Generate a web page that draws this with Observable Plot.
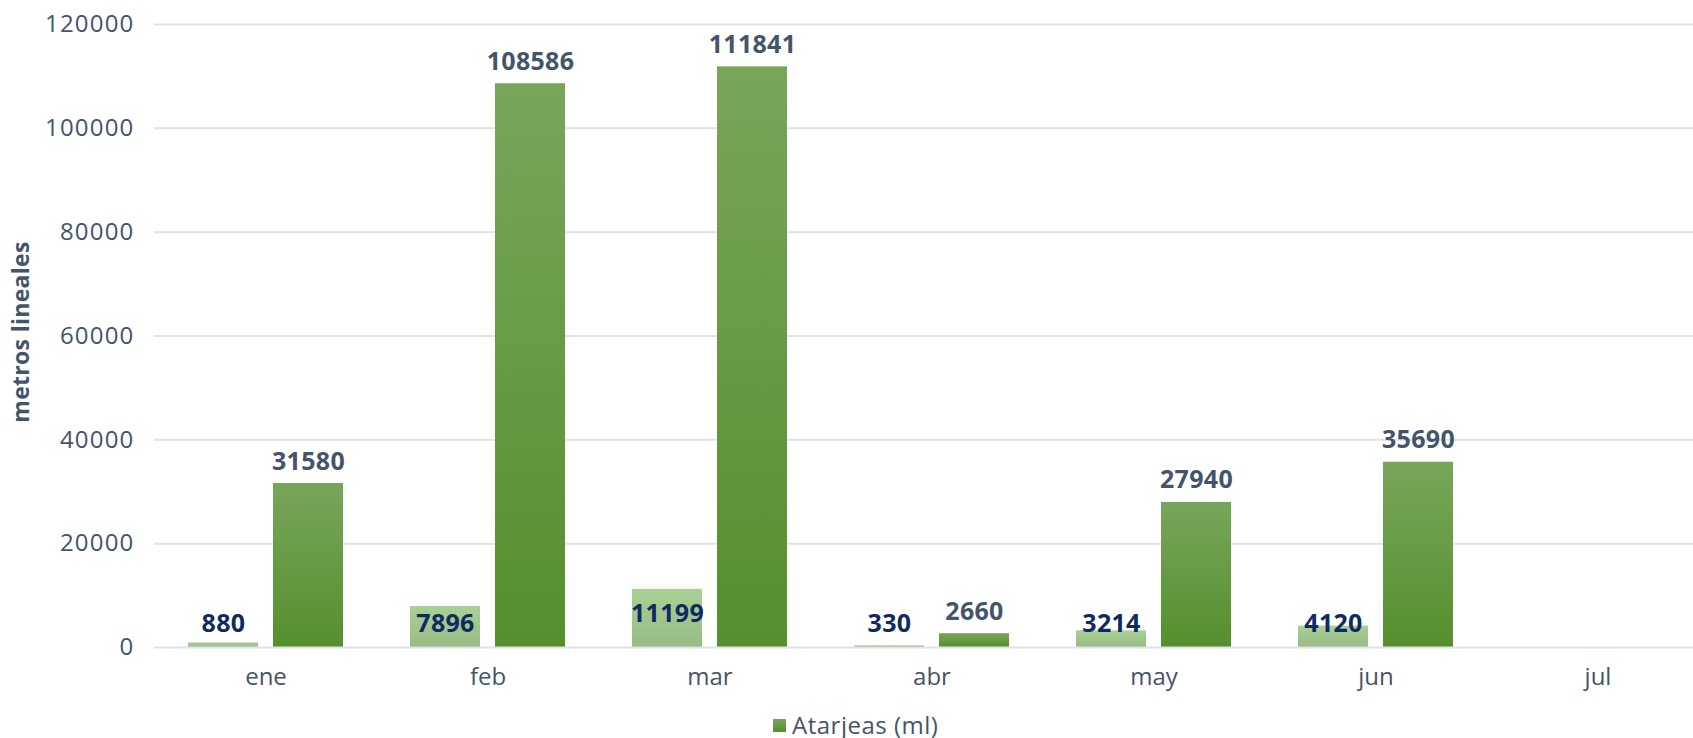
<!DOCTYPE html>
<html>
<head>
<meta charset="utf-8">
<script src="https://cdn.jsdelivr.net/npm/d3@7"></script>
<script src="https://cdn.jsdelivr.net/npm/@observablehq/plot@0.6"></script>
<style>
  html, body { margin: 0; padding: 0; background: #fff; overflow: hidden; width: 1693px; height: 738px; }
  #chart { position: relative; width: 1693px; height: 738px; }
  #legend { position: absolute; left: 773px; top: 712px; height: 26px; display: flex; align-items: center;
    font-family: 'Open Sans', sans-serif; font-size: 24px; line-height: 26px; color: #44546a; letter-spacing: 0.5px; }
  #legend .sw { width: 13px; height: 13px; background: linear-gradient(#76a65a, #558f2d); margin-right: 6px; }
  g[aria-label="y-axis tick label"] text { letter-spacing: 1.2px; }
  g[aria-label="text"] text { letter-spacing: 0.3px; }
</style>
</head>
<body>
<div id="chart"><div id="legend"><span class="sw"></span><span>Atarjeas (ml)</span></div></div>
<script>
const months = ["ene", "feb", "mar", "abr", "may", "jun", "jul"];
const otros = [880, 7896, 11199, 330, 3214, 4120, null];
const atarjeas = [31580, 108586, 111841, 2660, 27940, 35690, null];
const yTicks = [0, 20000, 40000, 60000, 80000, 100000, 120000];
const yTitle = "metros lineales";

const light = months.map((m, i) => ({month: m, value: otros[i]})).filter(d => d.value != null);
const dark = months.map((m, i) => ({month: m, value: atarjeas[i]})).filter(d => d.value != null);

const svg = Plot.plot({
  width: 1693,
  height: 700,
  marginLeft: 154,
  marginRight: -15,
  marginTop: 24,
  marginBottom: 53,
  style: {fontFamily: "'Open Sans', sans-serif", fontSize: "24px", color: "#44546a", background: "white"},
  x: {domain: months, paddingInner: 0.302, paddingOuter: 0.151, label: null},
  y: {domain: [0, 120000], label: null},
  marks: [
    Plot.gridY(yTicks.filter(t => t > 0), {stroke: "#dfe2e8", strokeOpacity: 1, strokeWidth: 2}),
    Plot.barY(light, {x: "month", y: "value", fill: "url(#gLight)", insetRight: 85}),
    Plot.barY(dark, {x: "month", y: "value", fill: "url(#gDark)", insetLeft: 85}),
    Plot.ruleY([0], {stroke: "#dfe2e8", strokeWidth: 2}),
    Plot.text(light, {x: "month", y: d => Math.max(d.value - 4700, 4600), text: d => String(d.value),
      dx: -42.5, fill: "#0f2a61", fontWeight: 700, fontSize: 25}),
    Plot.text(dark, {x: "month", y: "value", text: d => String(d.value),
      dx: 42.5, dy: -22, fill: "#44546a", fontWeight: 700, fontSize: 25}),
    Plot.axisY({ticks: yTicks, tickSize: 0, tickPadding: 20, tickFormat: d => String(d), label: null, fontSize: 24}),
    Plot.axisX({tickSize: 0, tickPadding: 20, label: null, fontSize: 24}),
    Plot.text([yTitle], {frameAnchor: "left", text: d => d, rotate: -90, textAnchor: "middle", dx: -133, dy: -4,
      fill: "#44546a", fontWeight: 700, fontSize: 23})
  ]
});

svg.insertAdjacentHTML("afterbegin", `<defs>
  <linearGradient id="gDark" x1="0" y1="0" x2="0" y2="1">
    <stop offset="0" stop-color="#77a65b"/><stop offset="1" stop-color="#558f2d"/>
  </linearGradient>
  <linearGradient id="gLight" x1="0" y1="0" x2="0" y2="1">
    <stop offset="0" stop-color="#aad096"/><stop offset="1" stop-color="#98bc84"/>
  </linearGradient>
</defs>`);
svg.style.overflow = "hidden";
document.getElementById("chart").prepend(svg);
</script>
</body>
</html>
